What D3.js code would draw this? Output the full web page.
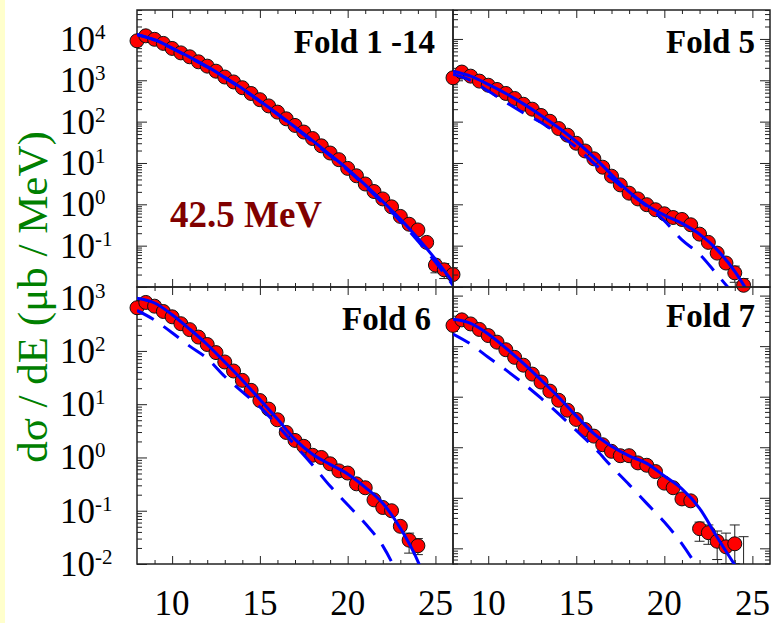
<!DOCTYPE html>
<html>
<head>
<meta charset="utf-8">
<script src="https://cdn.jsdelivr.net/npm/d3@7/dist/d3.min.js"></script>
<style>
  body { margin: 0; background: #fff; }
  svg { display: block; }
  text { font-family: "Liberation Serif", "Times New Roman", Times, serif; }
</style>
</head>
<body>
<svg id="chart" width="776" height="623" font-family="Liberation Serif, Times New Roman, serif"></svg>
<script>
// measured points, dσ/dE in µb/MeV, one entry every 0.5 MeV from 8 MeV
const energies = [8, 8.5, 9, 9.5, 10, 10.5, 11, 11.5, 12, 12.5, 13, 13.5, 14, 14.5, 15, 15.5, 16, 16.5,
  17, 17.5, 18, 18.5, 19, 19.5, 20, 20.5, 21, 21.5, 22, 22.5, 23, 23.5, 24, 24.5, 25, 25.5, 26];

const fold114Values = [9000, 11900, 9800, 7800, 5900, 4600, 3700, 2800, 2200, 1660, 1200, 912, 661, 479,
  339, 240, 170, 117, 81, 56, 39, 26, 17.4, 12.0, 7.4, 4.9, 3.1, 2.04, 1.35, 0.87, 0.51, 0.33, 0.24,
  0.12, 0.034, 0.026, 0.020];
const fold5Values = [1150, 1580, 1260, 955, 760, 600, 480, 363, 263, 200, 141, 102, 68, 47, 30, 19.5,
  12.6, 7.9, 4.8, 2.95, 1.86, 1.35, 0.98, 0.74, 0.59, 0.48, 0.43, 0.32, 0.19, 0.12, 0.066, 0.038,
  0.022, 0.011];
const fold6Values = [646, 813, 692, 550, 437, 324, 251, 182, 132, 93, 62, 42, 28, 18.2, 11.7, 8.1, 5.1,
  2.95, 2.09, 1.62, 1.10, 1.0, 0.76, 0.56, 0.51, 0.32, 0.27, 0.16, 0.115, 0.10, 0.051, 0.028, 0.022];
const fold7Values = [257, 331, 275, 214, 162, 120, 85, 60, 42, 28, 19.5, 12.9, 8.5, 5.4, 3.55, 2.24,
  1.66, 1.12, 0.83, 0.68, 0.68, 0.49, 0.44, 0.33, 0.195, 0.158, 0.095, 0.087, 0.0245, 0.0204, 0.0138,
  0.0107, 0.0123];

// error bars: [energy, low, high]
const fold114Errors = [[25, 0.022, 0.047], [25.5, 0.016, 0.037]];
const fold5Errors = [[24, 0.013, 0.032], [24.5, 0.006, 0.016]];
const fold6Errors = [[23.5, 0.016, 0.038], [24, 0.015, 0.030]];
const fold7Errors = [[22, 0.0138, 0.033], [22.5, 0.012, 0.029], [23, 0.006, 0.022],
  [23.5, 0.005, 0.020], [24, 0.005, 0.029], [24.5, 0.004, 0.017]];

// model curves, one entry per MeV from 8 MeV
const modelEnergies = [8, 9, 10, 11, 12, 13, 14, 15, 16, 17, 18, 19, 20, 21, 22, 23, 24, 25, 26];

const fold114Solid = [12900, 9550, 6030, 3630, 2140, 1175, 631, 316, 155, 74, 34.7, 15.8, 7.1, 2.95,
  1.17, 0.44, 0.151, 0.047, 0.0129];
const fold114Dashed = [12700, 9400, 5900, 3550, 2090, 1150, 615, 308, 150, 71, 33, 15.0, 6.7, 2.75,
  1.07, 0.39, 0.13, 0.040, 0.011];
const fold5Solid = [1660, 1259, 794, 479, 269, 141, 70.8, 33.1, 13.8, 5.25, 2.0, 0.955, 0.55, 0.347,
  0.19, 0.079, 0.024, 0.005];
const fold5Dashed = [1413, 1000, 550, 295, 162, 95.5, 49, 24, 9.8, 4.27, 1.9, 0.91, 0.40, 0.138, 0.062,
  0.020, 0.0063];
const fold6Solid = [977, 794, 479, 257, 132, 61.7, 28.2, 12.3, 5.25, 2.19, 1.15, 0.74, 0.49, 0.275,
  0.138, 0.047, 0.0112, 0.0013];
const fold6Dashed = [575, 380, 219, 123, 72.4, 33.1, 17.0, 8.9, 3.98, 1.70, 0.72, 0.29, 0.129, 0.0575,
  0.0219, 0.005];
const fold7Solid = [339, 282, 174, 91.2, 45.7, 21.4, 9.77, 4.17, 1.86, 1.05, 0.676, 0.479, 0.27, 0.15,
  0.062, 0.0166, 0.0047];
const fold7Dashed = [174, 110, 60.3, 33.9, 18.2, 9.33, 4.57, 2.14, 1.0, 0.417, 0.182, 0.0776, 0.0331,
  0.0123, 0.0036];

const topExponents = ["4", "3", "2", "1", "0", "-1"];
const bottomExponents = ["3", "2", "1", "0", "-1", "-2"];
const xTickLabels = [10, 15, 20, 25];
const foldNames = ["Fold 1 -14", "Fold 5", "Fold 6", "Fold 7"];

const serif = "Liberation Serif, Times New Roman, serif";
const svg = d3.select("#chart");

svg.append("rect")
  .attr("x", 0).attr("y", 0)
  .attr("width", 5).attr("height", 623)
  .attr("fill", "#ffffcc");

const panels = [
  { name: foldNames[0], values: fold114Values, solid: fold114Solid, dashed: fold114Dashed, errors: fold114Errors,
    x0: 137, x1: 453, y0: 10, y1: 287, yLog: [-2, 4.7], left: true, exps: topExponents, labelDx: 18, labelDy: 43 },
  { name: foldNames[1], values: fold5Values, solid: fold5Solid, dashed: fold5Dashed, errors: fold5Errors,
    x0: 453, x1: 770, y0: 10, y1: 287, yLog: [-2, 4.7], left: false, labelDx: 15, labelDy: 43 },
  { name: foldNames[2], values: fold6Values, solid: fold6Solid, dashed: fold6Dashed, errors: fold6Errors,
    x0: 137, x1: 453, y0: 287, y1: 564, yLog: [-2, 3.2], left: true, exps: bottomExponents, labelDx: 22, labelDy: 43,
    bottom: true },
  { name: foldNames[3], values: fold7Values, solid: fold7Solid, dashed: fold7Dashed, errors: fold7Errors,
    x0: 453, x1: 770, y0: 287, y1: 564, yLog: [-2.31, 3.17], left: false, labelDx: 15, labelDy: 40,
    bottom: true }
];

panels.forEach((p, i) => {
  const x = d3.scaleLinear().domain([8, 26]).range([p.x0, p.x1]);
  const y = d3.scaleLog()
    .domain([Math.pow(10, p.yLog[0]), Math.pow(10, p.yLog[1])])
    .range([p.y1, p.y0]);

  const allTicks = y.ticks();
  const majorY = allTicks.filter(t => Math.abs(Math.log10(t) - Math.round(Math.log10(t))) < 1e-9);
  const minorY = allTicks.filter(t => !majorY.includes(t));
  const majorX = xTickLabels;
  const minorX = d3.range(9, 26).filter(v => v % 5 !== 0);

  const g = svg.append("g").attr("class", "panel");

  g.append("clipPath")
    .attr("id", "clip" + i)
    .append("rect")
    .attr("x", p.x0).attr("y", p.y0)
    .attr("width", p.x1 - p.x0).attr("height", p.y1 - p.y0);

  // ticks (all pointing inward)
  function addAxis(axis, tx, ty) {
    const a = g.append("g")
      .attr("transform", `translate(${tx},${ty})`)
      .call(axis);
    a.select(".domain").remove();
    a.selectAll("line").attr("stroke", "#222").attr("stroke-width", 1);
    a.selectAll("text").remove();
  }

  addAxis(d3.axisLeft(y).tickValues(majorY).tickSize(-10), p.x0, 0);
  addAxis(d3.axisLeft(y).tickValues(minorY).tickSize(-5), p.x0, 0);
  if (!p.left) {
    addAxis(d3.axisRight(y).tickValues(majorY).tickSize(-10), p.x1, 0);
    addAxis(d3.axisRight(y).tickValues(minorY).tickSize(-5), p.x1, 0);
  }
  addAxis(d3.axisTop(x).tickValues(majorX).tickSize(-8), 0, p.y0);
  addAxis(d3.axisTop(x).tickValues(minorX).tickSize(-4), 0, p.y0);
  addAxis(d3.axisBottom(x).tickValues(majorX).tickSize(-8), 0, p.y1);
  addAxis(d3.axisBottom(x).tickValues(minorX).tickSize(-4), 0, p.y1);

  // frame
  g.append("rect")
    .attr("x", p.x0).attr("y", p.y0)
    .attr("width", p.x1 - p.x0).attr("height", p.y1 - p.y0)
    .attr("fill", "none")
    .attr("stroke", "#222")
    .attr("stroke-width", 1.5);

  // y tick labels on the left panels
  if (p.left) {
    p.exps.forEach(e => {
      const t = g.append("text")
        .attr("x", 60)
        .attr("y", y(Math.pow(10, +e)) + 12)
        .attr("font-family", serif)
        .style("font-size", "35px")
        .attr("fill", "#000");
      t.append("tspan").text("10");
      t.append("tspan")
        .attr("dy", -12)
        .style("font-size", "21px")
        .text(e);
    });
  }

  // x tick labels on the bottom row
  if (p.bottom) {
    xTickLabels.forEach(v => {
      g.append("text")
        .attr("x", x(v))
        .attr("y", 615)
        .attr("text-anchor", "middle")
        .attr("font-family", serif)
        .style("font-size", "35px")
        .text(v);
    });
  }

  const pts = p.values.map((v, k) => ({ e: energies[k], v: v }));

  // error bars
  const eb = g.append("g").attr("clip-path", `url(#clip${i})`);
  p.errors.forEach(d => {
    eb.append("line")
      .attr("x1", x(d[0])).attr("x2", x(d[0]))
      .attr("y1", y(d[1])).attr("y2", y(d[2]))
      .attr("stroke", "#222").attr("stroke-width", 1);
    [d[1], d[2]].forEach(v => {
      eb.append("line")
        .attr("x1", x(d[0]) - 5).attr("x2", x(d[0]) + 5)
        .attr("y1", y(v)).attr("y2", y(v))
        .attr("stroke", "#222").attr("stroke-width", 1);
    });
  });

  g.selectAll(".pt")
    .data(pts)
    .enter()
    .append("circle")
    .attr("class", "pt")
    .attr("cx", d => x(d.e))
    .attr("cy", d => y(d.v))
    .attr("r", 7)
    .attr("fill", "#ff0000")
    .attr("stroke", "#111")
    .attr("stroke-width", 1);

  const line = d3.line()
    .x(d => x(d.e))
    .y(d => y(d.v))
    .curve(d3.curveMonotoneX);

  const dashedData = p.dashed.map((v, k) => ({ e: modelEnergies[k], v: v }));
  const solidData = p.solid.map((v, k) => ({ e: modelEnergies[k], v: v }));

  g.append("path")
    .datum(dashedData)
    .attr("clip-path", `url(#clip${i})`)
    .attr("d", line)
    .attr("fill", "none")
    .attr("stroke", "#0000ff")
    .attr("stroke-width", 3)
    .attr("stroke-dasharray", "19,12");

  g.append("path")
    .datum(solidData)
    .attr("clip-path", `url(#clip${i})`)
    .attr("d", line)
    .attr("fill", "none")
    .attr("stroke", "#0000ff")
    .attr("stroke-width", 3);

  g.append("text")
    .attr("x", p.x1 - p.labelDx)
    .attr("y", p.y0 + p.labelDy)
    .attr("text-anchor", "end")
    .attr("font-family", serif)
    .style("font-size", "33px")
    .style("font-weight", "bold")
    .text(p.name);
});

svg.append("text")
  .attr("x", 170)
  .attr("y", 227)
  .attr("fill", "#800000")
  .attr("font-family", serif)
  .style("font-size", "37px")
  .style("font-weight", "bold")
  .text("42.5 MeV");

svg.append("text")
  .attr("transform", "translate(47,297) rotate(-90)")
  .attr("text-anchor", "middle")
  .attr("fill", "#008000")
  .attr("font-family", serif)
  .style("font-size", "43px")
  .text("dσ / dE (μb / MeV)");
</script>
</body>
</html>
